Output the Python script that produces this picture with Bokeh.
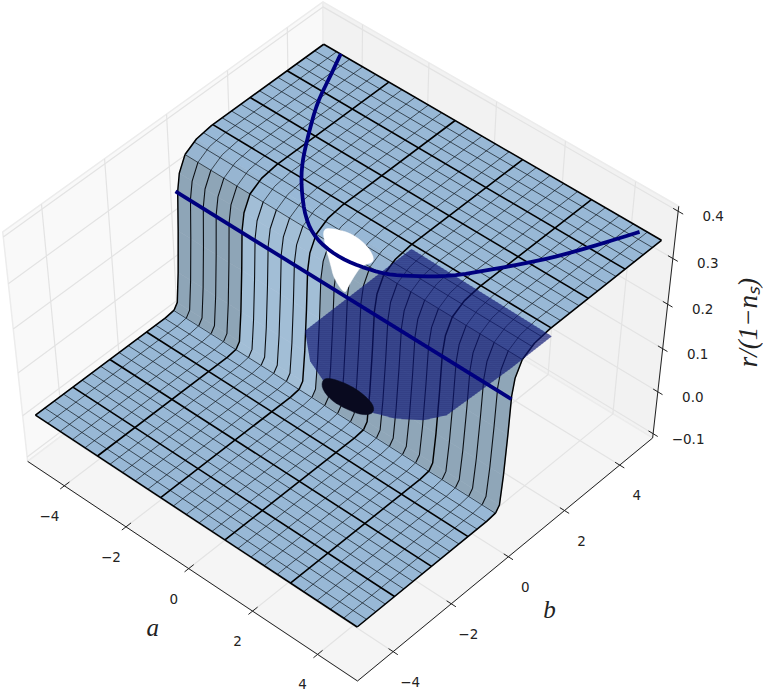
import numpy as np
from bokeh.plotting import figure
from bokeh.models import Range1d
from bokeh.embed import file_html
from bokeh.resources import INLINE
from bokeh.core.properties import value

# ---- axis limits and ticks
A0, A1 = -5.21, 5.21
B0, B1 = -5.21, 5.21
Z0, Z1 = -0.1104, 0.4104
a_ticks = [-4, -2, 0, 2, 4]
b_ticks = [-4, -2, 0, 2, 4]
z_ticks = [-0.1, 0.0, 0.1, 0.2, 0.3, 0.4]
a_tick_labels = ["\u22124", "\u22122", "0", "2", "4"]
b_tick_labels = ["\u22124", "\u22122", "0", "2", "4"]
z_tick_labels = ["\u22120.1", "0.0", "0.1", "0.2", "0.3", "0.4"]

# ---- surface: height against b, mesh lines in a and b
profile_b = [-5, -0.6, -0.3, -0.18, -0.1, -0.03, 0.02, 0.1, 0.3125, 0.7, 1.2, 5]
profile_z = [0, 0, 0.003, 0.015, 0.08, 0.17, 0.255, 0.29, 0.32, 0.335, 0.34, 0.34]
mesh_a = [-5 + 0.4 * i for i in range(26)]
mesh_b = [-5 + 0.3125 * i for i in range(33)]
wall_cell_colors = (["#8ea5b7"] * 5 + ["#a2bed6"] * 6 + ["#8fa6b8"] * 14)
SHEET_COLOR = "#98b8d6"

# ---- curves
line1_a = [-5, 5]
line1_b = [-0.05, 0.02]
line1_z = [0.258, 0.248]
curve_a = [-4.48, -4.12, -3.74, -3.19, -2.62, -2.08, -1.33, -0.70, -0.01, 0.60, 1.22, 1.71, 2.31, 2.83, 3.34, 3.77, 4.47]
curve_b = [5.01, 4.23, 3.38, 2.49, 1.63, 1.01, 0.32, -0.03, -0.14, -0.06, 0.14, 0.50, 1.03, 1.79, 2.57, 3.33, 4.89]
PLANE_Z = 0.34

# ---- translucent sheet, dark hole and white gap, in plane coordinates
sheet_a = [1.09, 5.18, 5.17, 5.14, 5.09, 4.82, 4.33, 3.81, 2.49, 1.82, 1.10]
sheet_b = [1.13, 1.06, -0.31, -1.11, -2.29, -2.73, -3.10, -3.30, -3.28, -3.00, -2.37]
hole_a = [2.38, 2.55, 2.90, 3.27, 3.72, 3.90, 3.75, 3.35, 2.94, 2.54]
hole_b = [-3.20, -3.07, -2.99, -2.98, -3.08, -3.29, -3.49, -3.58, -3.59, -3.44]
gap_a = [-0.82, -0.59, -0.20, 0.34, 0.78, 0.63, 0.73, 0.87, 0.96, 0.46, 0.10, -0.42]
gap_b = [0.33, 0.50, 0.63, 0.55, 0.29, 0.01, -0.35, -0.72, -0.93, -0.72, -0.43, -0.04]

# ---- camera, fitted from where known 3D points sit in the picture
cal_3d = [(A0, B0, Z0), (A1, B0, Z0), (A1, B1, Z0), (A1, B1, Z1), (A0, B0, Z1), (A0, B1, Z1),
          (-5, -5, 0), (5, -5, 0), (5, 5, 0.34), (-5, 5, 0.34)]
cal_px = [(27, 461), (357, 680), (652, 438), (678, 205), (2, 232), (323, 2),
          (35, 414), (357, 627), (661, 240), (323, 43)]
M, R = [], []
for (X, Y, Z), (u, v) in zip(cal_3d, cal_px):
    M.append([X, Y, Z, 1, 0, 0, 0, 0, -u * X, -u * Y, -u * Z]); R.append(u)
    M.append([0, 0, 0, 0, X, Y, Z, 1, -v * X, -v * Y, -v * Z]); R.append(v)
P = np.append(np.linalg.lstsq(np.array(M, float), np.array(R, float), rcond=None)[0], 1).reshape(3, 4)


def proj(a, b, z):
    a, b, z = np.broadcast_arrays(np.asarray(a, float), np.asarray(b, float), np.asarray(z, float))
    h = np.stack([a, b, z, np.ones_like(a)])
    q = P @ h.reshape(4, -1)
    return (q[0] / q[2]).reshape(a.shape), (q[1] / q[2]).reshape(a.shape)


def mix(c1, c2, t):
    r1 = [int(c1[i:i + 2], 16) for i in (1, 3, 5)]
    r2 = [int(c2[i:i + 2], 16) for i in (1, 3, 5)]
    return "#%02x%02x%02x" % tuple(int(round(x + (y - x) * t)) for x, y in zip(r1, r2))


def round_off(xs, ys, closed, times=2):
    """Corner cutting, so that a hand-read outline is drawn as a smooth line."""
    xs, ys = list(xs), list(ys)
    for _ in range(times):
        nx, ny = ([], []) if closed else ([xs[0]], [ys[0]])
        n = len(xs)
        for k in range(n if closed else n - 1):
            m = (k + 1) % n
            nx += [0.75 * xs[k] + 0.25 * xs[m], 0.25 * xs[k] + 0.75 * xs[m]]
            ny += [0.75 * ys[k] + 0.25 * ys[m], 0.25 * ys[k] + 0.75 * ys[m]]
        if not closed:
            nx.append(xs[-1]); ny.append(ys[-1])
        xs, ys = nx, ny
    return xs, ys


p = figure(width=763, height=691, x_range=Range1d(0, 763), y_range=Range1d(691, 0),
           toolbar_location=None, output_backend="svg", min_border=0,
           x_axis_type=None, y_axis_type=None)
p.grid.visible = False
p.outline_line_color = None
p.background_fill_color = "white"
p.border_fill_color = "white"


def pane(corners, color):
    xs, ys = proj(*np.array(corners, float).T)
    p.patch(list(xs), list(ys), fill_color=color, line_color="#ececec", line_width=1.5)


pane([(A0, B0, Z0), (A0, B1, Z0), (A0, B1, Z1), (A0, B0, Z1)], "#f9f9f9")
pane([(A0, B1, Z0), (A1, B1, Z0), (A1, B1, Z1), (A0, B1, Z1)], "#f2f2f2")
pane([(A0, B0, Z0), (A1, B0, Z0), (A1, B1, Z0), (A0, B1, Z0)], "#f5f5f5")

# pane grids
gx, gy = [], []
def poly(pts, xs=gx, ys=gy):
    x, y = proj(*np.array(pts, float).T)
    xs.append(list(x)); ys.append(list(y))
for t in a_ticks:
    poly([(t, B0, Z0), (t, B1, Z0), (t, B1, Z1)])
for t in b_ticks:
    poly([(A1, t, Z0), (A0, t, Z0), (A0, t, Z1)])
for t in z_ticks:
    poly([(A0, B0, t), (A0, B1, t), (A1, B1, t)])
p.multi_line(gx, gy, line_color="#e3e3e3", line_width=1.2)

# axis lines and ticks
ax, ay = [], []
poly([(A0, B0, Z0), (A1, B0, Z0), (A1, B1, Z0), (A1, B1, Z1)], ax, ay)
for t in a_ticks:
    poly([(t, B0 - 0.14, Z0), (t, B0 + 0.17, Z0)], ax, ay)
for t in b_ticks:
    poly([(A1 - 0.14, t, Z0), (A1 + 0.14, t, Z0)], ax, ay)
for t in z_ticks:
    poly([(A1 - 0.14, B1, t), (A1 + 0.14, B1, t)], ax, ay)
p.multi_line(ax, ay, line_color="#222222", line_width=1.0)

# surface cells, far to near
cx, cy, cc = [], [], []
for j in range(len(profile_b) - 2, -1, -1):
    b1, b2 = profile_b[j], profile_b[j + 1]
    z1, z2 = profile_z[j], profile_z[j + 1]
    steep = min(1.0, abs(z2 - z1) / (b2 - b1) / 0.1) ** 2
    for i in range(25):
        a1, a2 = mesh_a[i], mesh_a[i + 1]
        x, y = proj([a1, a2, a2, a1], [b1, b1, b2, b2], [z1, z1, z2, z2])
        cx.append(list(x)); cy.append(list(y))
        cc.append(mix(SHEET_COLOR, wall_cell_colors[i], steep))
p.patches(cx, cy, fill_color=cc, line_color=cc, line_width=0.6)

# mesh lines
thin_x, thin_y, bold_x, bold_y, wall_x, wall_y, wallb_x, wallb_y = [], [], [], [], [], [], [], []
pb, pz = np.array(profile_b), np.array(profile_z)
low = pb <= -0.3
mid = (pb >= -0.3) & (pb <= 0.3125)
high = pb >= 0.3125
for i, a in enumerate(mesh_a):
    edge = i % 5 == 0
    for mask in (low, high):
        x, y = proj(a, pb[mask], pz[mask])
        (bold_x if edge else thin_x).append(list(x))
        (bold_y if edge else thin_y).append(list(y))
    x, y = proj(a, pb[mid], pz[mid])
    (wallb_x if edge else wall_x).append(list(x))
    (wallb_y if edge else wall_y).append(list(y))
for i, b in enumerate(mesh_b):
    if abs(b) < 0.2:
        continue
    z = float(np.interp(b, profile_b, profile_z))
    x, y = proj([-5, 5], [b, b], [z, z])
    if i % 4 == 0:
        bold_x.append(list(x)); bold_y.append(list(y))
    else:
        thin_x.append(list(x)); thin_y.append(list(y))
p.multi_line(thin_x, thin_y, line_color="#10181f", line_width=0.95, line_alpha=0.75)
p.multi_line(wall_x, wall_y, line_color="#0b0f14", line_width=1.1)
p.multi_line(wallb_x, wallb_y, line_color="black", line_width=1.45)
p.multi_line(bold_x, bold_y, line_color="black", line_width=1.6)

# white gap
x, y = proj(gap_a, gap_b, PLANE_Z)
x, y = round_off(x, y, True, 2)
p.patch(x, y, fill_color="white", line_color="white", line_width=0.5)

# translucent sheet with its dense hatch
sx, sy = proj(sheet_a, sheet_b, PLANE_Z)
p.patch(list(sx), list(sy), fill_color="#101c80", fill_alpha=0.62, line_color=None)
hx, hy = [], []
sxc, syc = np.append(sx, sx[0]), np.append(sy, sy[0])
for yy in np.arange(sy.min(), sy.max(), 2.0):
    cross = []
    for k in range(len(sx)):
        if (syc[k] - yy) * (syc[k + 1] - yy) < 0:
            cross.append(sxc[k] + (yy - syc[k]) / (syc[k + 1] - syc[k]) * (sxc[k + 1] - sxc[k]))
    cross.sort()
    for k in range(0, len(cross) - 1, 2):
        hx.append([cross[k], cross[k + 1]]); hy.append([yy, yy])
p.multi_line(hx, hy, line_color="#0b0b55", line_width=0.9, line_alpha=0.4)

# dark hole
x, y = proj(hole_a, hole_b, PLANE_Z)
x, y = round_off(x, y, True, 2)
p.patch(x, y, fill_color="#090a1f", line_color="#090a1f", line_width=0.5)

# navy curves
x, y = proj(line1_a, line1_b, line1_z)
p.line(list(x), list(y), line_color="#00007f", line_width=3.8)
x, y = proj(curve_a, curve_b, PLANE_Z)
x, y = round_off(x, y, False, 2)
p.line(x, y, line_color="#00007f", line_width=3.8, line_join="round")

# tick labels
FONT = value("DejaVu Sans")
def labels(xs, ys, texts, dx, dy):
    p.text(list(xs), list(ys), text=texts, text_font=FONT, text_font_size="13.5px", text_color="#222222",
           text_align="center", text_baseline="middle", x_offset=dx, y_offset=dy)

x, y = proj(a_ticks, B0, Z0)
labels(x, y, a_tick_labels, -15, 30)
x, y = proj(A1, b_ticks, Z0)
labels(x, y, b_tick_labels, 17, 30)
x, y = proj(A1, B1, z_ticks)
labels(x, y, z_tick_labels, 35, 5)

# axis titles
SERIF = value("Liberation Serif")
x, y = proj(0, B0, Z0)
p.text([float(x)], [float(y)], text=["a"], text_font=SERIF, text_font_style="italic", text_font_size="25px",
       text_color="#222222", text_align="center", text_baseline="middle", x_offset=-36, y_offset=59)
x, y = proj(A1, 0, Z0)
p.text([float(x)], [float(y)], text=["b"], text_font=SERIF, text_font_style="italic", text_font_size="25px",
       text_color="#222222", text_align="center", text_baseline="middle", x_offset=41, y_offset=53)
x, y = proj(A1, B1, 0.15)
p.text([float(x)], [float(y)], text=["r/(1\u2212n\u209b)"], text_font=SERIF, text_font_style="italic",
       text_font_size="27px", text_color="#222222", text_align="center", text_baseline="middle",
       angle=np.pi / 2, x_offset=83, y_offset=-4)

open("out.html", "w").write(file_html(p, INLINE))
